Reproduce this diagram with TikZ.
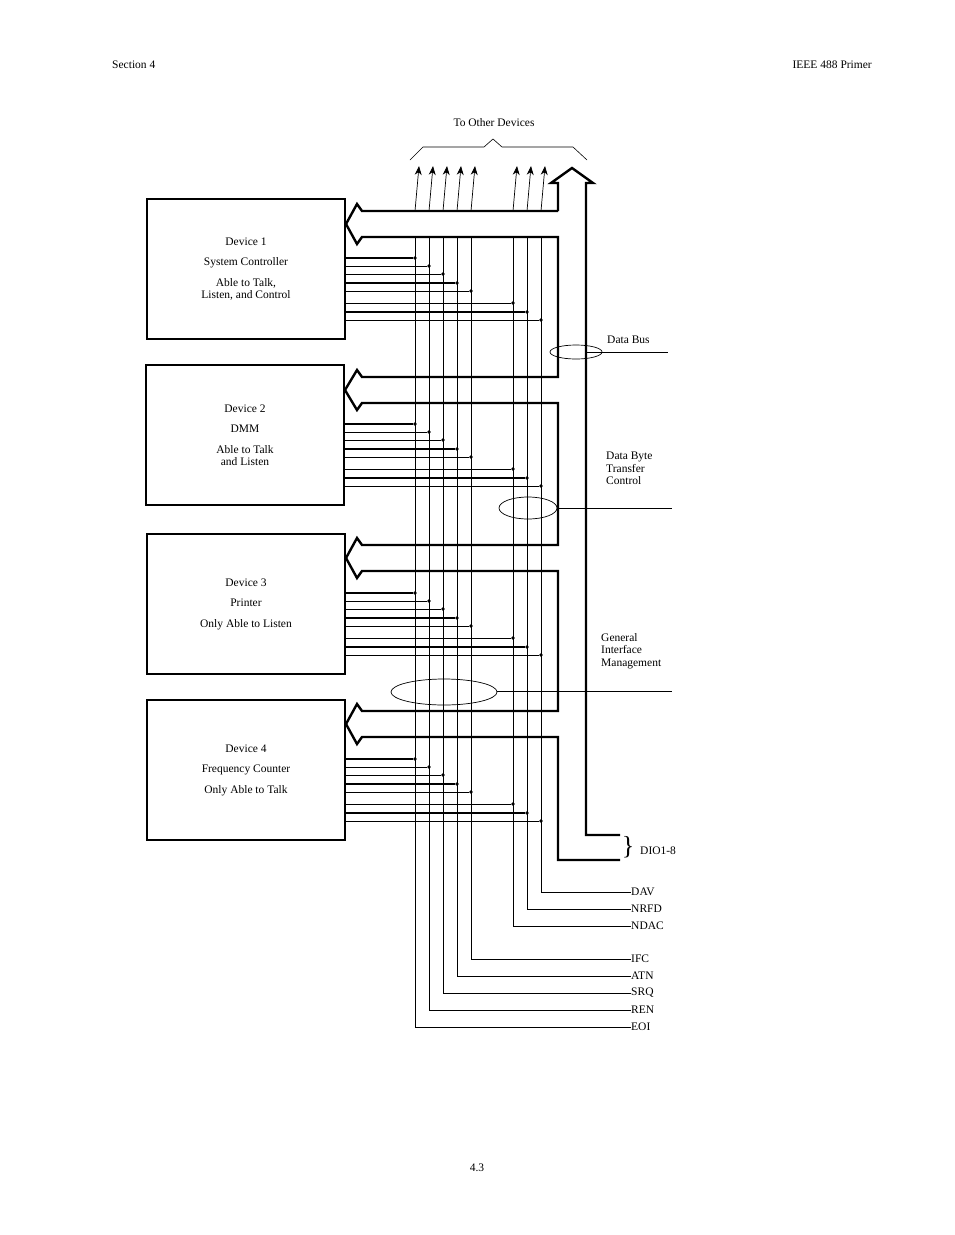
\documentclass[tikz,border=0pt]{standalone}
\usepackage{fontspec}
\setmainfont{Liberation Serif}
\usetikzlibrary{arrows.meta}

\tikzset{
  devBox/.style = {rectangle, draw=black, line width=2pt, minimum width=198pt, minimum height=140pt, align=center, font=\fontsize{11.5}{16.5}\selectfont, inner sep=0pt},
  busLine/.style = {line width=2.4pt, line join=miter},
  sigLine/.style = {line width=0.7pt},
  label/.style = {font=\fontsize{11.5}{12}\selectfont, inner sep=0pt, align=left},
  tag/.style = {font=\fontsize{11.5}{12}\selectfont, inner sep=0pt, anchor=west},
  dot/.style = {circle, fill=black, inner sep=0pt, minimum size=3.6pt},
  upArrow/.style = {line width=0.7pt, -{Stealth[length=9pt,width=7pt]}}
}

\begin{document}
\begin{tikzpicture}[x=1pt,y=-1pt]
  \useasboundingbox (0,0) rectangle (954,1235);

  % page header and footer
  \node (sect) [tag] at (112,65) {Section 4};
  \node (title) [tag, anchor=east] at (872,65) {IEEE 488 Primer};
  \node (page) [tag, anchor=center] at (477,1168) {4.3};

  % devices
  \node (dev1) [devBox] at (246,269) {Device 1\\[4pt]System Controller\\[4pt]Able to Talk,\\[-4pt]Listen, and Control};
  \node (dev2) [devBox] at (245,435) {Device 2\\[4pt]DMM\\[4pt]Able to Talk\\[-4pt]and Listen};
  \node (dev3) [devBox] at (246,604) {Device 3\\[4pt]Printer\\[4pt]Only Able to Listen};
  \node (dev4) [devBox] at (246,770) {Device 4\\[4pt]Frequency Counter\\[4pt]Only Able to Talk};

  % vertical signal lines, with their end labels
  \foreach \x/\yb/\name in {415/1027/EOI, 429/1010/REN, 443/993/SRQ, 457/976/ATN, 471/959/IFC,
                            513/926/NDAC, 527/909/NRFD, 541/892/DAV} {
    \node (\name) [tag] at (631,\yb) {\name};
    \coordinate (top\name) at (\x,237);
    \draw [sigLine] (top\name) |- (\name.west);
  }

  % device taps onto the lines
  \foreach \dev/\t in {dev1/199, dev2/365, dev3/534, dev4/700} {
    \foreach \dy/\x/\w in {59/415/1.3, 67/429/0.7, 75/443/0.7, 84/457/1.3, 92/471/0.7,
                           104/513/0.7, 113/527/1.3, 121/541/0.7} {
      \node (\dev tap\x) [dot] at (\x,\t+\dy) {};
      \draw [line width=\w pt] (\dev.east |- \dev tap\x) -- (\dev tap\x);
    }
  }

  % data bus channel
  \draw [busLine, fill=white]
    (558,211) -- (362,211) -- (357,204) -- (dev1.east |- 0,224) -- (357,244) -- (362,237) -- (558,237)
    -- (558,377) -- (362,377) -- (357,370) -- (dev2.east |- 0,390) -- (357,410) -- (362,403) -- (558,403)
    -- (558,545) -- (362,545) -- (357,538) -- (dev3.east |- 0,558) -- (357,578) -- (362,571) -- (558,571)
    -- (558,711) -- (362,711) -- (357,704) -- (dev4.east |- 0,724) -- (357,744) -- (362,737) -- (558,737)
    -- (558,860) -- (620,860);
  \draw [busLine] (558,211) -- (558,183) -- (551,183) -- (572,168) -- (593,183) -- (586,183) -- (586,835) -- (620,835);
  % lines re-drawn across the channel
  \foreach \x in {415,429,443,457,471,513,527,541} {
    \foreach \ya/\yb in {377/403, 545/571, 711/737} {
      \draw [sigLine] (\x,\ya) -- (\x,\yb);
    }
  }

  % to other devices
  \foreach \x in {415,429,443,457,471,513,527,541} {
    \draw [upArrow] (\x,211) -- (\x+4,166);
  }
  \draw [line width=0.6pt] (410,160) -- (423,147) -- (484,147) -- (493,139) -- (502,147) -- (573,147) -- (587,160);
  \node (others) [tag, anchor=center] at (494,123) {To Other Devices};

  % DIO1-8
  \node (brace) [inner sep=0pt, font=\fontsize{26}{26}\selectfont] at (628,847) {\}};
  \node (dio) [tag] at (640,851) {DIO1-8};

  % groups
  \node (dbus) [tag] at (607,340) {Data Bus};
  \draw [line width=0.7pt] (576,352) ellipse (26 and 7);
  \draw [line width=0.7pt] (586,352) -- (668,352);
  \node (dbtc) [label, anchor=north west, font=\fontsize{11.5}{16.5}\selectfont] at (606,452) {Data Byte\\[-4pt]Transfer\\[-4pt]Control};
  \draw [line width=0.7pt] (528,508) ellipse (29 and 11);
  \draw [line width=0.7pt] (558,508) -- (672,508);
  \node (gim) [label, anchor=north west, font=\fontsize{11.5}{16.5}\selectfont] at (601,633) {General\\[-4pt]Interface\\[-4pt]Management};
  \draw [line width=0.7pt] (444,692) ellipse (53 and 13);
  \draw [line width=0.7pt] (497,691) -- (672,691);
\end{tikzpicture}
\end{document}
